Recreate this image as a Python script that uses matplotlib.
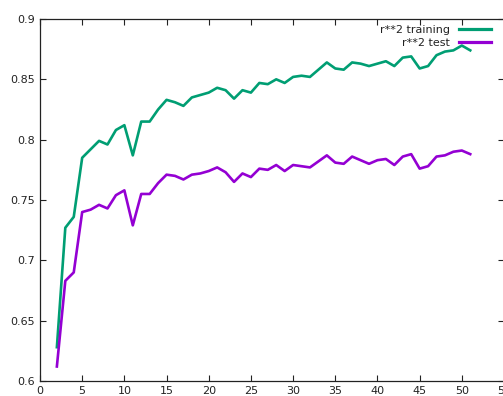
import matplotlib
matplotlib.use("Agg")
import matplotlib.pyplot as plt

x = list(range(2, 52))
train = [0.628, 0.727, 0.736, 0.785, 0.792, 0.799, 0.796, 0.808, 0.812, 0.787,
         0.815, 0.815, 0.825, 0.833, 0.831, 0.828, 0.835, 0.837, 0.839, 0.843,
         0.841, 0.834, 0.841, 0.839, 0.847, 0.846, 0.850, 0.847, 0.852, 0.853,
         0.852, 0.858, 0.864, 0.859, 0.858, 0.864, 0.863, 0.861, 0.863, 0.865,
         0.861, 0.868, 0.869, 0.859, 0.861, 0.870, 0.873, 0.874, 0.878, 0.874]
test = [0.612, 0.683, 0.690, 0.740, 0.742, 0.746, 0.743, 0.754, 0.758, 0.729,
        0.755, 0.755, 0.764, 0.771, 0.770, 0.767, 0.771, 0.772, 0.774, 0.777,
        0.773, 0.765, 0.772, 0.769, 0.776, 0.775, 0.779, 0.774, 0.779, 0.778,
        0.777, 0.782, 0.787, 0.781, 0.780, 0.786, 0.783, 0.780, 0.783, 0.784,
        0.779, 0.786, 0.788, 0.776, 0.778, 0.786, 0.787, 0.790, 0.791, 0.788]
xticks = [0, 5, 10, 15, 20, 25, 30, 35, 40, 45, 50, 55]
yticks = [0.6, 0.65, 0.7, 0.75, 0.8, 0.85, 0.9]
ytick_labels = ["0.6", "0.65", "0.7", "0.75", "0.8", "0.85", "0.9"]

W, H = 503, 396
fig = plt.figure(figsize=(W / 100, H / 100), dpi=100)
ax = fig.add_axes([40 / W, (H - 381) / H, (504 - 40) / W, (381 - 19) / H])

ax.plot(x, train, color="#009e73", lw=1.9, label="r**2 training")
ax.plot(x, test, color="#9400d3", lw=1.9, label="r**2 test")

ax.set_xlim(0, 55)
ax.set_ylim(0.6, 0.9)
ax.set_xticks(xticks)
ax.set_xticklabels([str(t) for t in xticks])
ax.set_yticks(yticks)
ax.set_yticklabels(ytick_labels)
ax.tick_params(direction="in", length=4, width=0.8, top=True, right=True,
               labelsize=8, colors="#222222", labelcolor="#222222")
for s in ax.spines.values():
    s.set_linewidth(0.9)
    s.set_color("#222222")

leg = ax.legend(loc="upper right", bbox_to_anchor=(491 / W, (H - 25) / H),
                bbox_transform=fig.transFigure, frameon=False, markerfirst=False,
                fontsize=8, handlelength=2.9, handletextpad=0.8,
                labelspacing=0.3, borderaxespad=0, borderpad=0)
for t in leg.get_texts():
    t.set_color("#222222")
for l in leg.get_lines():
    l.set_linewidth(2.3)

fig.savefig("out.png", dpi=100)
